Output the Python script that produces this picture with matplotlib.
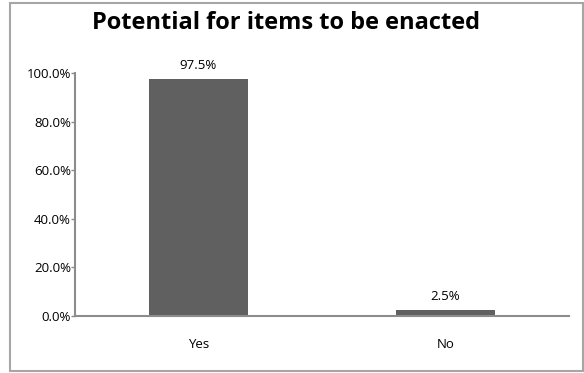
import matplotlib
matplotlib.use("Agg")
import matplotlib.pyplot as plt
from matplotlib.patches import Rectangle
from matplotlib.ticker import PercentFormatter

categories = ["Yes", "No"]
shares = [97.5, 2.5]
y_ticks = [0, 20, 40, 60, 80, 100]

BAR_COLOR = "#606060"
AXIS_COLOR = "#8c8c8c"
FONT = "Open Sans"

plt.rcParams["font.family"] = [FONT, "DejaVu Sans"]

fig = plt.figure(figsize=(5.84, 3.73), dpi=100)
fig.patches.append(Rectangle((10 / 584, 2 / 373), 573 / 584, 368 / 373,
                             transform=fig.transFigure, fill=False,
                             edgecolor="#a6a6a6", linewidth=1.5))

ax = fig.add_axes([75 / 584, 1 - 316 / 373, 494 / 584, 243 / 373])
x = range(len(categories))
bars = ax.bar(x, shares, width=0.4, color=BAR_COLOR)

for b, v in zip(bars, shares):
    ax.annotate(f"{v:.1f}%", (b.get_x() + b.get_width() / 2, v),
                xytext=(0, 5), textcoords="offset points",
                ha="center", va="bottom", fontsize=9.5)

ax.set_xlim(-0.5, 1.5)
ax.set_ylim(0, 100)
ax.set_yticks(y_ticks)
ax.yaxis.set_major_formatter(PercentFormatter(decimals=1))
ax.set_xticks(list(x))
ax.set_xticklabels(categories)

for side in ("top", "right"):
    ax.spines[side].set_visible(False)
for side in ("left", "bottom"):
    ax.spines[side].set_color(AXIS_COLOR)
    ax.spines[side].set_linewidth(1.5)

ax.tick_params(axis="y", length=3, width=1, color=AXIS_COLOR, pad=0, labelsize=9.5)
ax.tick_params(axis="x", length=0, pad=16, labelsize=9.5)

fig.text(286 / 584, 1 - 23 / 373, "Potential for items to be enacted",
         ha="center", va="center", fontsize=17, fontweight="bold")

fig.savefig("out.png", dpi=100)
